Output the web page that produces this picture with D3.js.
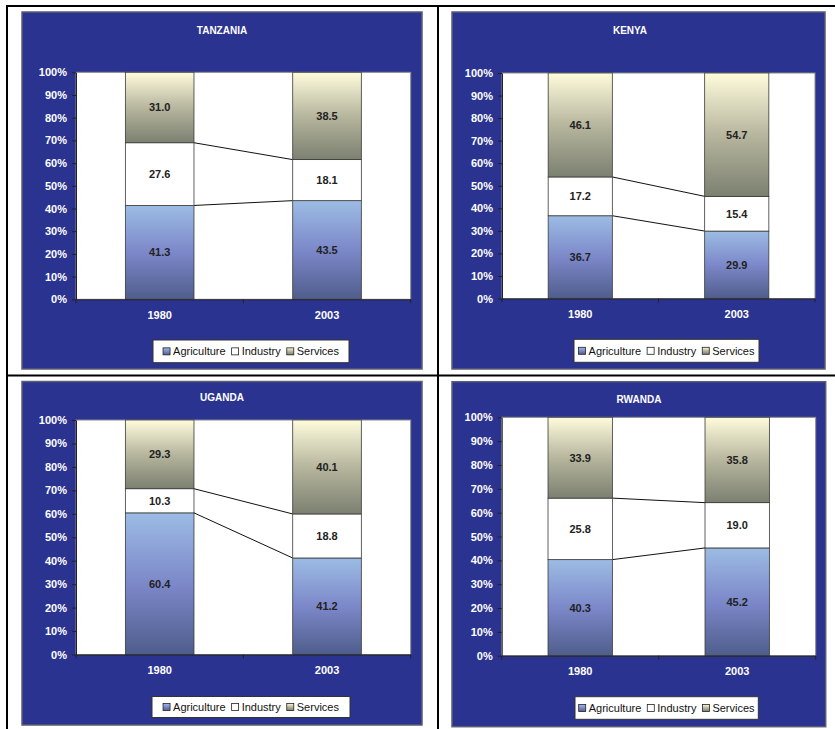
<!DOCTYPE html>
<html>
<head>
<meta charset="utf-8">
<script src="https://cdn.jsdelivr.net/npm/d3@7"></script>
<style>
  html, body { margin: 0; padding: 0; background: #ffffff; }
  svg { display: block; font-family: Arial, "Liberation Sans", sans-serif; }
</style>
</head>
<body>
<svg id="chart" width="835" height="729"></svg>
<script>
// ---------------- DATA ----------------
const countries = ["TANZANIA", "KENYA", "UGANDA", "RWANDA"];
const years = ["1980", "2003"];
const seriesNames = ["Agriculture", "Industry", "Services"];
// values per country, [1980, 2003]
const agriculture = [[41.3, 43.5], [36.7, 29.9], [60.4, 41.2], [40.3, 45.2]];
const industry    = [[27.6, 18.1], [17.2, 15.4], [10.3, 18.8], [25.8, 19.0]];
const services    = [[31.0, 38.5], [46.1, 54.7], [29.3, 40.1], [33.9, 35.8]];
const yTickValues = [0, 0.1, 0.2, 0.3, 0.4, 0.5, 0.6, 0.7, 0.8, 0.9, 1.0];

// ---------------- LAYOUT ----------------
const layouts = [
  { panel: [22, 12, 422, 369],    titleX: 222, titleY: 30,  plot: [76, 72.3, 410.7, 299.3],  legend: [153, 340, 349, 362.7] },
  { panel: [452, 12, 825, 369],   titleX: 630, titleY: 30,  plot: [502, 73, 815, 298.5],     legend: [574, 339.3, 759, 362.3] },
  { panel: [22, 381.5, 422, 725], titleX: 222, titleY: 397, plot: [76, 420, 410.7, 654.5],   legend: [152, 696.5, 350, 717.5] },
  { panel: [452, 381.7, 825.7, 726.7], titleX: 639, titleY: 399, plot: [501.7, 417.3, 815.7, 655.7], legend: [575, 696.7, 758.3, 719.3] }
];

const svg = d3.select("#chart");
const defs = svg.append("defs");

function grad(id, stops) {
  const g = defs.append("linearGradient").attr("id", id)
    .attr("x1", 0).attr("y1", 0).attr("x2", 0).attr("y2", 1);
  stops.forEach(s => g.append("stop").attr("offset", s[0]).attr("stop-color", s[1]));
}
grad("gAgri", [[0, "#9cbce4"], [0.5, "#7c88c9"], [1, "#4f5d8c"]]);
grad("gServ", [[0, "#fffcdc"], [0.5, "#b7b69e"], [1, "#7b8070"]]);
const fills = { Agriculture: "url(#gAgri)", Industry: "#ffffff", Services: "url(#gServ)" };

// ---------------- TABLE LINES ----------------
const lines = svg.append("g");
lines.append("rect").attr("x", 6).attr("y", 5).attr("width", 829).attr("height", 2).attr("fill", "#000");
lines.append("rect").attr("x", 6).attr("y", 5).attr("width", 2).attr("height", 724).attr("fill", "#000");
lines.append("rect").attr("x", 437).attr("y", 5).attr("width", 2).attr("height", 724).attr("fill", "#000");
lines.append("rect").attr("x", 6).attr("y", 374.5).attr("width", 829).attr("height", 2).attr("fill", "#000");

// ---------------- PANELS ----------------
countries.forEach((country, ci) => {
  const L = layouts[ci];
  const g = svg.append("g");
  const [px0, py0, px1, py1] = L.panel;
  g.append("rect").attr("x", px0).attr("y", py0).attr("width", px1 - px0).attr("height", py1 - py0)
    .attr("fill", "#2b3390").attr("stroke", "#5b5d73").attr("stroke-width", 1.5);

  g.append("text").attr("x", L.titleX).attr("y", L.titleY).attr("text-anchor", "middle")
    .attr("dy", "0.35em").attr("fill", "#fff").attr("font-weight", "bold").attr("font-size", 10)
    .text(country);

  const [x0, y0, x1, y1] = L.plot;
  const table = years.map((yr, yi) => ({
    year: yr,
    Agriculture: agriculture[ci][yi],
    Industry: industry[ci][yi],
    Services: services[ci][yi]
  }));
  const stacked = d3.stack().keys(seriesNames).offset(d3.stackOffsetExpand)(table);

  const x = d3.scaleBand().domain(years).range([x0, x1]).paddingInner(0.59).paddingOuter(0.295);
  const xCat = d3.scaleBand().domain(years).range([x0, x1]);
  const y = d3.scaleLinear().domain([0, 1]).range([y1, y0]);

  // plot area
  g.append("rect").attr("x", x0).attr("y", y0).attr("width", x1 - x0).attr("height", y1 - y0)
    .attr("fill", "#fff").attr("stroke", "#8a8a8a").attr("stroke-width", 1);

  // series connector lines
  const bw = x.bandwidth();
  [0, 1].forEach(si => {
    const a = stacked[si][0], b = stacked[si][1];
    g.append("line")
      .attr("x1", x(years[0]) + bw).attr("y1", y(a[1]))
      .attr("x2", x(years[1])).attr("y2", y(b[1]))
      .attr("stroke", "#111").attr("stroke-width", 1);
  });

  // bars
  stacked.forEach(series => {
    g.append("g").selectAll("rect").data(series).join("rect")
      .attr("x", d => x(d.data.year))
      .attr("y", d => y(d[1]))
      .attr("width", bw)
      .attr("height", d => y(d[0]) - y(d[1]))
      .attr("fill", fills[series.key])
      .attr("stroke", "#3a3a3a").attr("stroke-width", 0.8);
    g.append("g").selectAll("text").data(series).join("text")
      .attr("x", d => x(d.data.year) + bw / 2)
      .attr("y", d => (y(d[0]) + y(d[1])) / 2)
      .attr("dy", "0.35em").attr("text-anchor", "middle")
      .attr("font-size", 11).attr("font-weight", "bold").attr("fill", "#222")
      .text(d => d3.format(".1f")(d.data[series.key]));
  });

  // y axis
  const ya = g.append("g").attr("transform", `translate(${x0},0)`)
    .call(d3.axisLeft(y).tickValues(yTickValues).tickFormat(d3.format(".0%")).tickSize(4).tickSizeOuter(0).tickPadding(5));
  ya.select(".domain").attr("stroke", "#222");
  ya.selectAll(".tick line").attr("stroke", "#222");
  ya.selectAll(".tick text").attr("fill", "#fff").attr("font-weight", "bold").attr("font-size", 11)
    .attr("font-family", "Arial, 'Liberation Sans', sans-serif");

  // x axis
  const xa = g.append("g").attr("transform", `translate(0,${y1})`)
    .call(d3.axisBottom(x).tickSize(0).tickPadding(12).tickSizeOuter(0));
  xa.select(".domain").attr("stroke", "#222");
  xa.selectAll(".tick text").attr("fill", "#fff").attr("font-weight", "bold").attr("font-size", 11)
    .attr("font-family", "Arial, 'Liberation Sans', sans-serif");
  const boundaries = years.map(yr => xCat(yr)).concat([x1]);
  g.append("g").selectAll("line").data(boundaries).join("line")
    .attr("x1", d => d).attr("x2", d => d).attr("y1", y1).attr("y2", y1 + 4)
    .attr("stroke", "#222").attr("stroke-width", 1);

  // legend
  const [lx0, ly0, lx1, ly1] = L.legend;
  g.append("rect").attr("x", lx0).attr("y", ly0).attr("width", lx1 - lx0).attr("height", ly1 - ly0)
    .attr("fill", "#fff").attr("stroke", "#333").attr("stroke-width", 1);
  const lg = g.append("g");
  let cx = 0;
  const cy = (ly0 + ly1) / 2;
  seriesNames.forEach((name, i) => {
    lg.append("rect").attr("x", cx).attr("y", cy - 3.5).attr("width", 7).attr("height", 7)
      .attr("fill", fills[name]).attr("stroke", "#222").attr("stroke-width", 0.8);
    const t = lg.append("text").attr("x", cx + 10).attr("y", cy).attr("dy", "0.35em")
      .attr("font-size", 11).attr("fill", "#111").text(name);
    cx += 10 + t.node().getComputedTextLength() + 6;
  });
  const contentW = cx - 6;
  lg.attr("transform", `translate(${(lx0 + lx1) / 2 - contentW / 2},0)`);
});
</script>
</body>
</html>
